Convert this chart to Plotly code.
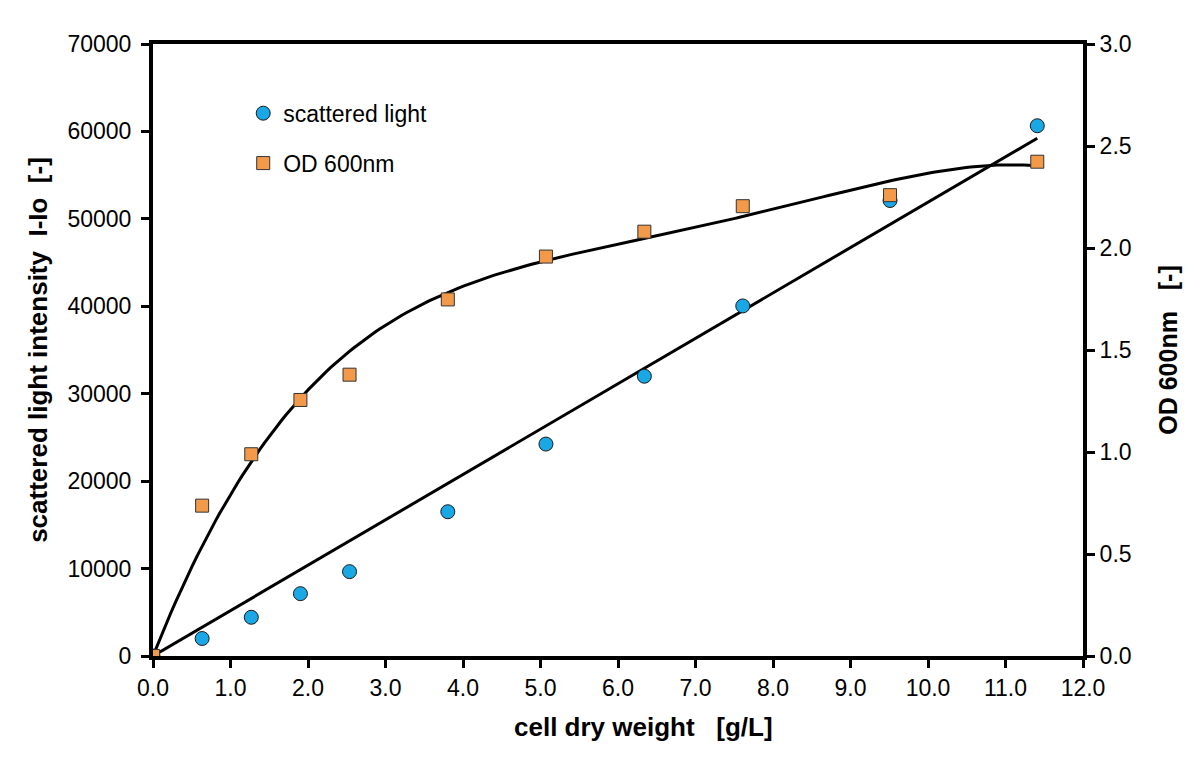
import numpy as np
import plotly.graph_objects as go

# cell dry weight [g/L]
cdw = [0.0, 0.634, 1.268, 1.902, 2.536, 3.804, 5.07, 6.34, 7.61, 9.51, 11.41]
# scattered light intensity I-Io [-]
scattered = [0, 2000, 4430, 7130, 9650, 16500, 24240, 32000, 40040, 52100, 60650]
# OD 600nm [-]
od600 = [0.0, 0.737, 0.989, 1.255, 1.379, 1.748, 1.958, 2.080, 2.205, 2.259, 2.423]

left_ticks = list(range(0, 70001, 10000))
right_ticks = [0, 0.5, 1.0, 1.5, 2.0, 2.5, 3.0]

x = np.array(cdw)
ys = np.array(scattered)
yo = np.array(od600)

# trendlines (through origin): linear for scattered light, 4th order for OD
slope = (x * ys).sum() / (x * x).sum()
A = np.vstack([x ** k for k in range(1, 5)]).T
coef = np.linalg.lstsq(A, yo, rcond=None)[0]
xf = np.linspace(0, x.max(), 200)
od_fit = sum(c * xf ** (k + 1) for k, c in enumerate(coef))

blue = "#1AA7E6"
orange = "#F29A4A"

fig = go.Figure()
fig.add_trace(go.Scatter(x=[0, x.max()], y=[0, slope * x.max()], mode="lines",
                         line=dict(color="black", width=3), showlegend=False, hoverinfo="skip"))
fig.add_trace(go.Scatter(x=xf, y=od_fit, mode="lines", yaxis="y2",
                         line=dict(color="black", width=3), showlegend=False, hoverinfo="skip"))
fig.add_trace(go.Scatter(x=cdw, y=scattered, mode="markers", name="scattered light",
                         legendgroup="a",
                         marker=dict(symbol="circle", size=14, color=blue,
                                     line=dict(color="#1a1a1a", width=1))))
fig.add_trace(go.Scatter(x=cdw, y=od600, mode="markers", name="OD 600nm", yaxis="y2",
                         legendgroup="b",
                         marker=dict(symbol="square", size=13, color=orange,
                                     line=dict(color="#333333", width=1))))

font_fam = "Liberation Sans, Arial"
tick_font = dict(family=font_fam, size=23, color="black")
pad = "\u00a0" * 7

fig.update_layout(
    width=1192, height=751,
    margin=dict(l=145, r=117, t=36, b=103),
    plot_bgcolor="white", paper_bgcolor="white",
    showlegend=True,
    legend=dict(x=0.097, y=0.922, xanchor="left", yanchor="top",
                font=dict(family=font_fam, size=23, color="black"),
                bgcolor="rgba(0,0,0,0)", tracegroupgap=17, itemwidth=30),
    xaxis=dict(range=[0, 12], tickvals=list(range(13)),
               ticktext=[f"{v:.1f}" for v in range(13)],
               showgrid=False, zeroline=False,
               showline=True, linecolor="black", linewidth=4, mirror=True,
               ticks="outside", ticklen=8, tickwidth=2.5, tickcolor="black",
               tickfont=tick_font,
               title=dict(text=f"<b>{pad}cell dry weight \u00a0 [g/L]</b>",
                          font=dict(family=font_fam, size=26, color="black"),
                          standoff=19)),
    yaxis=dict(range=[0, 70000], tickvals=left_ticks,
               ticktext=[str(v) for v in left_ticks],
               showgrid=False, zeroline=False,
               showline=True, linecolor="black", linewidth=4,
               ticks="outside", ticklen=8, tickwidth=2.5, tickcolor="black",
               tickfont=tick_font, ticklabelstandoff=5,
               title=dict(text="<b>scattered light intensity \u00a0I-Io \u00a0[-]</b>",
                          font=dict(family=font_fam, size=26, color="black"), standoff=13)),
    yaxis2=dict(range=[0, 3.0], tickvals=right_ticks,
                ticktext=[f"{v:.1f}" for v in right_ticks],
                overlaying="y", side="right",
                showgrid=False, zeroline=False,
                showline=True, linecolor="black", linewidth=4,
                ticks="outside", ticklen=8, tickwidth=2.5, tickcolor="black",
                tickfont=tick_font,
                title=dict(text="<b>OD 600nm \u00a0 [-]</b>",
                           font=dict(family=font_fam, size=25, color="black"), standoff=30)),
)

fig.write_html("out.html")
